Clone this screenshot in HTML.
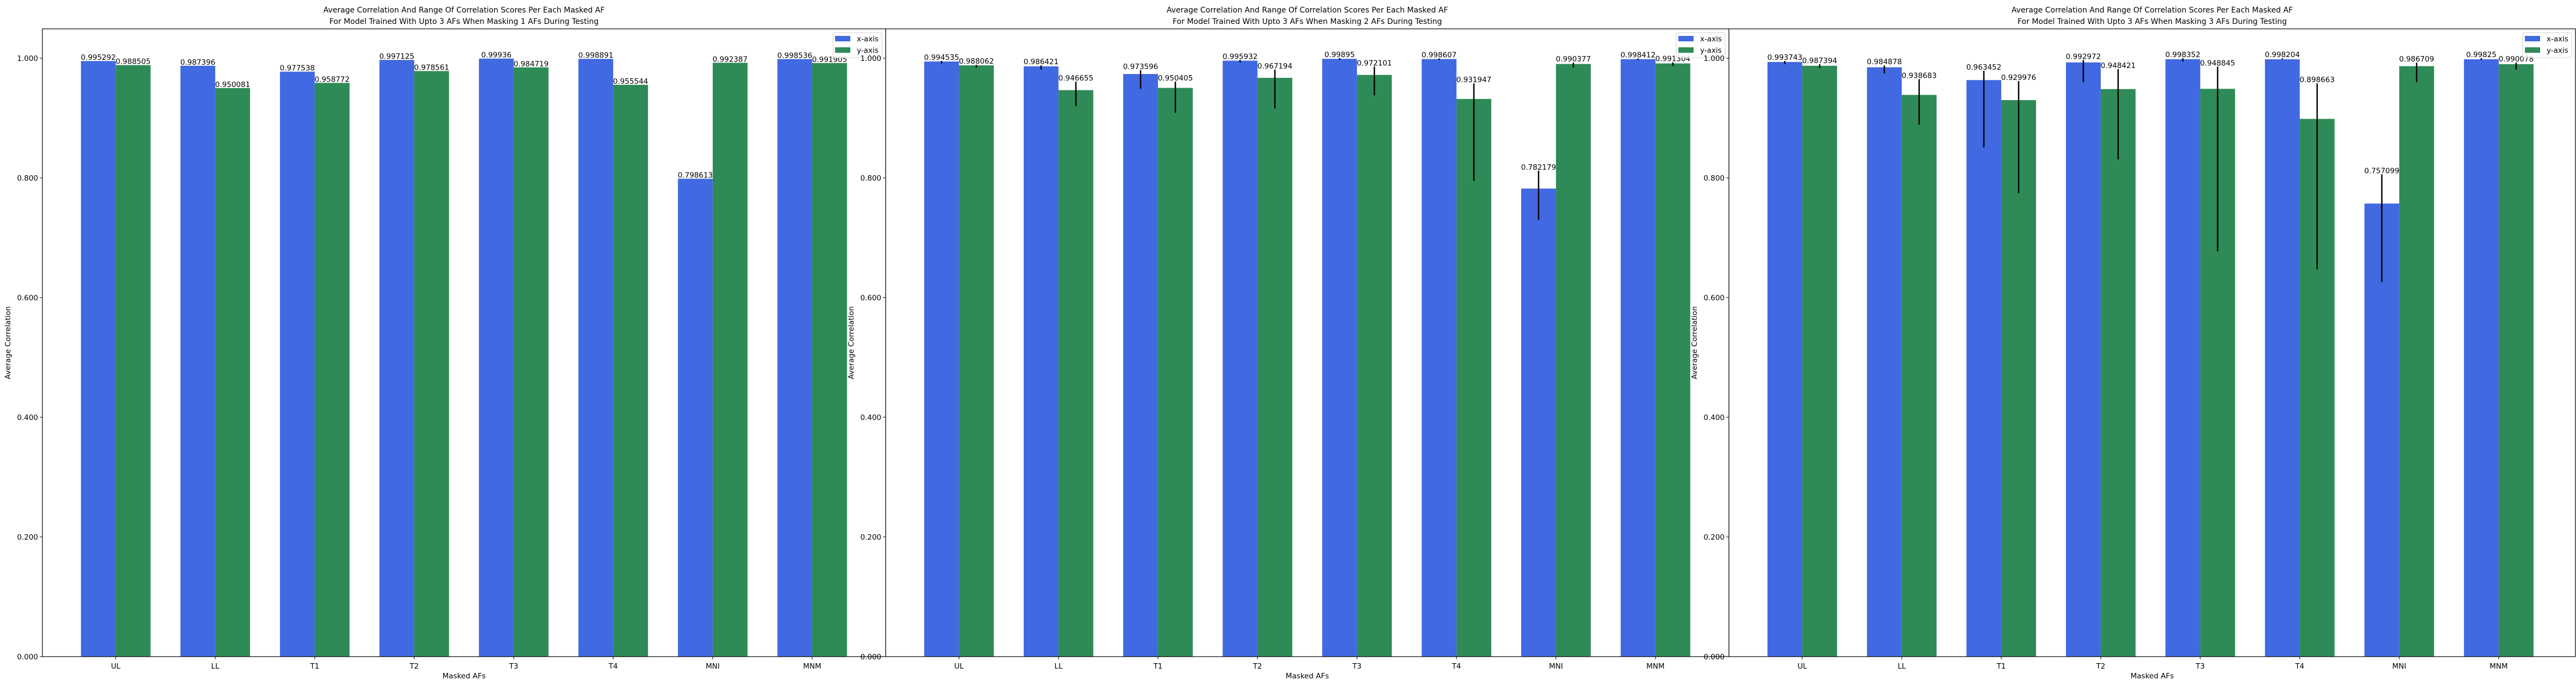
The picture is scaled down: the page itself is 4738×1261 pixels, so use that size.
<!DOCTYPE html>
<html><head><meta charset="utf-8"><style>
html,body{margin:0;padding:0;background:#fff;}
svg{display:block;font-family:"DejaVu Sans","Liberation Sans",sans-serif;}
</style></head><body>
<svg id="chart" width="4738" height="1261" viewBox="0 0 4738 1261" xmlns="http://www.w3.org/2000/svg"></svg>
<script>
const categories = ["UL","LL","T1","T2","T3","T4","MNI","MNM"];
const yTicks = [0, 0.2, 0.4, 0.6, 0.8, 1.0];
const yTickLabels = ["0.000","0.200","0.400","0.600","0.800","1.000"];
const titles = [
  ["Average Correlation And Range Of Correlation Scores Per Each Masked AF","For Model Trained With Upto 3 AFs When Masking 1 AFs During Testing"],
  ["Average Correlation And Range Of Correlation Scores Per Each Masked AF","For Model Trained With Upto 3 AFs When Masking 2 AFs During Testing"],
  ["Average Correlation And Range Of Correlation Scores Per Each Masked AF","For Model Trained With Upto 3 AFs When Masking 3 AFs During Testing"]
];
// panel 1 (mask 1)
const p1X = [0.995292,0.987396,0.977538,0.997125,0.99936,0.998891,0.798613,0.998536];
const p1Y = [0.988505,0.950081,0.958772,0.978561,0.984719,0.955544,0.992387,0.991905];
const p1XLabels = ["0.995292","0.987396","0.977538","0.997125","0.99936","0.998891","0.798613","0.998536"];
const p1YLabels = ["0.988505","0.950081","0.958772","0.978561","0.984719","0.955544","0.992387","0.991905"];
// panel 2 (mask 2)
const p2X = [0.994535,0.986421,0.973596,0.995932,0.99895,0.998607,0.782179,0.998412];
const p2Y = [0.988062,0.946655,0.950405,0.967194,0.972101,0.931947,0.990377,0.991304];
const p2XLabels = ["0.994535","0.986421","0.973596","0.995932","0.99895","0.998607","0.782179","0.998412"];
const p2YLabels = ["0.988062","0.946655","0.950405","0.967194","0.972101","0.931947","0.990377","0.991304"];
const p2XHi = [0.9955,0.988,0.980,0.997,1.0,0.9995,0.812,0.9995];
const p2XLo = [0.9909,0.981,0.949,0.993,0.997,0.997,0.730,0.997];
const p2YHi = [0.989,0.961,0.961,0.981,0.986,0.958,0.9927,0.993];
const p2YLo = [0.9845,0.920,0.909,0.916,0.938,0.795,0.9845,0.987];
// panel 3 (mask 3)
const p3X = [0.993743,0.984878,0.963452,0.992972,0.998352,0.998204,0.757099,0.99825];
const p3Y = [0.987394,0.938683,0.929976,0.948421,0.948845,0.898663,0.986709,0.990078];
const p3XLabels = ["0.993743","0.984878","0.963452","0.992972","0.998352","0.998204","0.757099","0.99825"];
const p3YLabels = ["0.987394","0.938683","0.929976","0.948421","0.948845","0.898663","0.986709","0.990078"];
const p3XHi = [0.9955,0.988,0.979,0.997,1.0,1.0,0.806,1.0];
const p3XLo = [0.990,0.9745,0.851,0.960,0.9945,0.998,0.626,0.997];
const p3YHi = [0.990,0.965,0.9618,0.9818,0.986,0.958,0.9927,0.9927];
const p3YLo = [0.9836,0.889,0.7745,0.831,0.677,0.647,0.960,0.981];

const NS = "http://www.w3.org/2000/svg";
const svg = document.getElementById("chart");
function mk(tag, attrs, parent){
  const e = document.createElementNS(NS, tag);
  for (const k in attrs) e.setAttribute(k, attrs[k]);
  (parent||svg).appendChild(e);
  return e;
}
const TOP = 53, BOTTOM = 1207, YMAX = (1207-53)/1100;
const BLUE = "#4169e1", GREEN = "#2e8b57";
const GROUP = 183, BARW = 64, XOFF = 0.737;

const panels = [
  {left:78, right:1629, xs:p1X, ys:p1Y, xl:p1XLabels, yl:p1YLabels, err:null},
  {left:1629, right:3180, xs:p2X, ys:p2Y, xl:p2XLabels, yl:p2YLabels, err:[p2XHi,p2XLo,p2YHi,p2YLo]},
  {left:3180, right:4737, xs:p3X, ys:p3Y, xl:p3XLabels, yl:p3YLabels, err:[p3XHi,p3XLo,p3YHi,p3YLo]}
];

panels.forEach((p, pi) => {
  const g = mk("g", {});
  
  
  const yS = v => BOTTOM - v/YMAX*(BOTTOM-TOP);
  const xC = i => p.left + (i + XOFF)*GROUP;
  mk("rect", {x:p.left, y:TOP, width:p.right-p.left, height:BOTTOM-TOP, fill:"#fff"}, g);
  // title
  const t = mk("text", {x:(p.left+p.right)/2, y:23, "text-anchor":"middle", "font-size":"14", fill:"#000"}, g);
  
  
  titles[pi].forEach((line, li) => { const ts = mk("tspan", {x:(p.left+p.right)/2, dy: li===0 ? 0 : 21}, t); ts.textContent = line; });
  // bars
  categories.forEach((c, i) => {
    const cx = xC(i);
    const bx = mk("rect", {x:cx-BARW, y:yS(p.xs[i]), width:BARW, height:BOTTOM-yS(p.xs[i]), fill:BLUE}, g);
    
    
    const by = mk("rect", {x:cx, y:yS(p.ys[i]), width:BARW, height:BOTTOM-yS(p.ys[i]), fill:GREEN}, g);
    
    
    let topX = yS(p.xs[i]), topY = yS(p.ys[i]);
    if (p.err){
      const [xh,xlo,yh,ylo] = p.err;
      const e1 = mk("line", {x1:cx-BARW/2, x2:cx-BARW/2, y1:yS(xh[i]), y2:yS(xlo[i]), stroke:"#000", "stroke-width":2.5}, g);
      
      
      const e2 = mk("line", {x1:cx+BARW/2, x2:cx+BARW/2, y1:yS(yh[i]), y2:yS(ylo[i]), stroke:"#000", "stroke-width":2.5}, g);
      
      
      topX = Math.min(topX, yS(xh[i])); topY = Math.min(topY, yS(yh[i]));
    }
    const l1 = mk("text", {x:cx-BARW/2, y:topX-2, "text-anchor":"middle", "font-size":"13.5", fill:"#000"}, g);
    l1.textContent = p.xl[i];
    
    
    const l2 = mk("text", {x:cx+BARW/2, y:topY-2, "text-anchor":"middle", "font-size":"13.5", fill:"#000"}, g);
    l2.textContent = p.yl[i];
    
    
    // x tick
    mk("line", {x1:cx, x2:cx, y1:BOTTOM, y2:BOTTOM+5, stroke:"#000", "stroke-width":1}, g);
    const xt = mk("text", {x:cx, y:BOTTOM+22, "text-anchor":"middle", "font-size":"13.5", fill:"#000"}, g);
    xt.textContent = c;
    
    
  });
  // y ticks
  yTicks.forEach((v, k) => {
    const y = yS(v);
    mk("line", {x1:p.left-5, x2:p.left, y1:y, y2:y, stroke:"#000", "stroke-width":1}, g);
    const yt = mk("text", {x:p.left-8, y:y+5, "text-anchor":"end", "font-size":"13.5", fill:"#000"}, g);
    yt.textContent = yTickLabels[k];
    
    
  });
  // spines
  mk("rect", {x:p.left, y:TOP, width:p.right-p.left, height:BOTTOM-TOP, fill:"none", stroke:"#000", "stroke-width":1.2}, g);
  // axis labels
  const xa = mk("text", {x:(p.left+p.right)/2, y:1247, "text-anchor":"middle", "font-size":"13.5", fill:"#000"}, g);
  xa.textContent = "Masked AFs";
  
  
  const ya = mk("text", {x:0, y:0, "text-anchor":"middle", "font-size":"13.5", fill:"#000", transform:"translate(" + (p.left-59) + ",630) rotate(-90)"}, g);
  ya.textContent = "Average Correlation";
  
  
  // legend
  const lg = mk("g", {}, g);
  
  
  const lx = p.right - 97;
  mk("rect", {x:lx, y:60, width:90, height:46, rx:3, fill:"#fff", "fill-opacity":0.8, stroke:"#d0d0d0", "stroke-width":1}, lg);
  mk("rect", {x:lx+4, y:66, width:28, height:10, fill:BLUE}, lg);
  mk("rect", {x:lx+4, y:87, width:28, height:10, fill:GREEN}, lg);
  const e1 = mk("text", {x:lx+44, y:76, "font-size":"13.5", fill:"#000"}, lg);
  e1.textContent = "x-axis";
  
  
  const e2 = mk("text", {x:lx+44, y:97, "font-size":"13.5", fill:"#000"}, lg);
  e2.textContent = "y-axis";
  
  
});
</script>
</body></html>
